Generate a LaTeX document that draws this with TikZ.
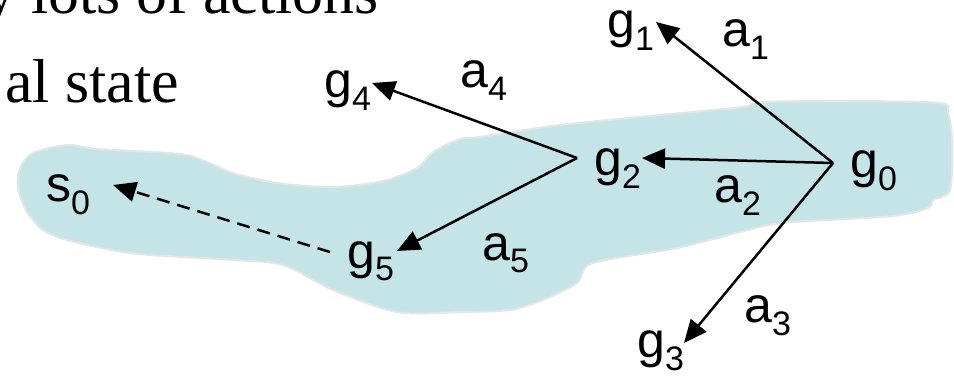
\documentclass[tikz,border=0pt]{standalone}
\usepackage{fontspec}
\setmainfont{Liberation Serif}
\newfontfamily\sansfam{Liberation Sans}
\usetikzlibrary{arrows.meta}
\definecolor{blobfill}{HTML}{C4E4E7}
\definecolor{blobedge}{HTML}{E4E6E6}
\newcommand\glab[2]{#1\raisebox{-13pt}{\fontsize{34}{34}\selectfont #2}}
\tikzset{
  lbl/.style={inner sep=0pt, anchor=base west, font=\sansfam\fontsize{50}{50}\selectfont},
  serif/.style={inner sep=0pt, anchor=base west, font=\fontsize{62}{62}\selectfont},
  act/.style={line width=2.5pt, -{Triangle[length=23pt,width=20pt]}},
  back/.style={act, dash pattern=on 13pt off 8pt},
}
\begin{document}
\begin{tikzpicture}[x=1pt,y=-1pt]
\useasboundingbox (0,0) rectangle (954,377);
\clip (0,0) rectangle (954,377);
% region
\filldraw[fill=blobfill, draw=blobedge, line width=2pt]
  plot[smooth cycle, tension=0.5] coordinates {
  (20,168) (33,153) (67,145) (97,149) (180,154) (207,162) (233,173) (277,183)
  (333,187) (383,181) (417,168) (433,152) (460,139) (480,137) (560,125)
  (660,115) (743,107) (760,102) (850,101) (940,103) (948,113) (952,140)
  (950,190) (933,200) (928,208) (893,216) (793,222) (760,227) (677,248)
  (593,263) (577,283) (543,300) (510,310) (460,312) (397,312) (333,290)
  (283,265) (233,260) (150,255) (117,251) (67,240) (43,230) (27,212) (18,188)};
% text
\node[serif] (line1) at (-15.5,14) {y lots of actions};
\node[serif] (line2) at (5,103) {al state};
% labels
\node[lbl] (g0) at (850,178) {\glab{g}{0}};
\node[lbl] (g1) at (607,38) {\glab{g}{1}};
\node[lbl] (g2) at (594,176) {\glab{g}{2}};
\node[lbl] (g3) at (637,357) {\glab{g}{3}};
\node[lbl] (g4) at (324,98) {\glab{g}{4}};
\node[lbl] (g5) at (347,268) {\glab{g}{5}};
\node[lbl] (s0) at (46,202) {\glab{s}{0}};
\node[lbl] (a1) at (722,47) {\glab{a}{1}};
\node[lbl] (a2) at (714,203) {\glab{a}{2}};
\node[lbl] (a3) at (744,322) {\glab{a}{3}};
\node[lbl] (a4) at (460,88) {\glab{a}{4}};
\node[lbl] (a5) at (482,260) {\glab{a}{5}};
% connector ends
\coordinate (h0) at (833,163);
\coordinate (h2) at (577,158);
\coordinate (h5) at (330,252);
\coordinate (t1) at (656,22);
\coordinate (t2) at (642,158);
\coordinate (t3) at (684,343);
\coordinate (t4) at (372,83);
\coordinate (t5) at (397,251);
\coordinate (t0) at (113,185);
% arrows
\draw[act] (h0) -- (t1);
\draw[act] (h0) -- (t2);
\draw[act] (h0) -- (t3);
\draw[act] (h2) -- (t4);
\draw[act] (h2) -- (t5);
\draw[back] (h5) -- (t0);
\end{tikzpicture}
\end{document}
